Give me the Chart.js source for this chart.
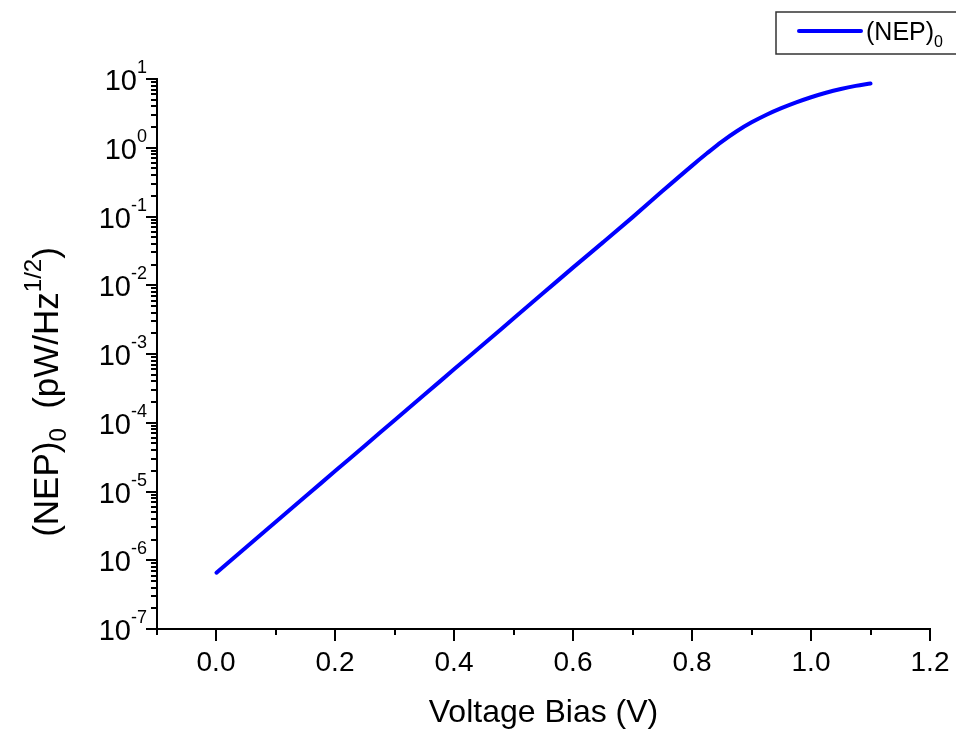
<!DOCTYPE html>
<html>
<head>
<meta charset="utf-8">
<script src="https://cdn.jsdelivr.net/npm/chart.js@4.4.1/dist/chart.umd.min.js"></script>
<style>
  html, body { margin: 0; padding: 0; background: #fff; }
  #wrap { width: 956px; height: 730px; position: relative; }
</style>
</head>
<body>
<div id="wrap"><canvas id="chart" width="956" height="730"></canvas></div>
<script>
// bias voltage (V) and noise-equivalent power (pW/Hz^1/2)
const voltage = [0.00, 0.05, 0.10, 0.15, 0.20, 0.25, 0.30, 0.35, 0.40, 0.45, 0.50, 0.55,
                 0.60, 0.65, 0.70, 0.75, 0.80, 0.825, 0.85, 0.875, 0.90, 0.925, 0.95,
                 0.975, 1.00, 1.025, 1.05, 1.075, 1.10];
const nep0 = [6.6e-7, 1.55e-6, 3.63e-6, 8.5e-6, 2.0e-5, 4.68e-5, 1.10e-4, 2.57e-4, 6.03e-4,
              1.41e-3, 3.31e-3, 7.76e-3, 1.82e-2, 4.2e-2, 9.8e-2, 0.234, 0.55, 0.83,
              1.23, 1.74, 2.34, 3.02, 3.76, 4.57, 5.43, 6.31, 7.16, 7.94, 8.61];

// axis ticks
const xMajorTicks = [0.0, 0.2, 0.4, 0.6, 0.8, 1.0, 1.2];
const xTickLabels = ['0.0', '0.2', '0.4', '0.6', '0.8', '1.0', '1.2'];
const xMinorTicks = [-0.1, 0.1, 0.3, 0.5, 0.7, 0.9, 1.1];
const yExponents = [-7, -6, -5, -4, -3, -2, -1, 0, 1];

const FONT = '"Liberation Sans", Arial, sans-serif';

// draws text made of pieces with their own size and vertical shift
function drawRich(ctx, parts, x, y, align) {
  let total = 0;
  parts.forEach(p => {
    ctx.font = p.size + 'px ' + FONT;
    p.w = ctx.measureText(p.text).width;
    total += p.w;
  });
  let cx = align === 'right' ? x - total : align === 'center' ? x - total / 2 : x;
  parts.forEach(p => {
    ctx.font = p.size + 'px ' + FONT;
    ctx.fillText(p.text, cx, y + (p.dy || 0));
    cx += p.w;
  });
}

const decorPlugin = {
  id: 'decor',
  afterDraw(chart) {
    const ctx = chart.ctx;
    const xs = chart.scales.x;
    const ys = chart.scales.y;
    const area = chart.chartArea;
    ctx.save();
    ctx.strokeStyle = '#000';
    ctx.fillStyle = '#000';
    ctx.lineWidth = 2;
    ctx.textBaseline = 'alphabetic';

    // x ticks
    xMajorTicks.forEach((v, i) => {
      const px = Math.round(xs.getPixelForValue(v));
      ctx.beginPath();
      ctx.moveTo(px, area.bottom);
      ctx.lineTo(px, area.bottom + 12);
      ctx.stroke();
      drawRich(ctx, [{ text: xTickLabels[i], size: 28 }], px, area.bottom + 42, 'center');
    });
    xMinorTicks.forEach(v => {
      const px = Math.round(xs.getPixelForValue(v));
      ctx.beginPath();
      ctx.moveTo(px, area.bottom);
      ctx.lineTo(px, area.bottom + 6);
      ctx.stroke();
    });

    // y ticks, decades and minor 2..9
    yExponents.forEach(e => {
      const py = Math.round(ys.getPixelForValue(Math.pow(10, e)));
      ctx.beginPath();
      ctx.moveTo(area.left, py);
      ctx.lineTo(area.left - 11, py);
      ctx.stroke();
      drawRich(ctx, [
        { text: '10', size: 29 },
        { text: String(e), size: 18, dy: -17 }
      ], area.left - 10, py + 11, 'right');
      if (e < 1) {
        for (let k = 2; k <= 9; k++) {
          const pm = Math.round(ys.getPixelForValue(k * Math.pow(10, e)));
          ctx.beginPath();
          ctx.moveTo(area.left, pm);
          ctx.lineTo(area.left - 6, pm);
          ctx.stroke();
        }
      }
    });

    // x title
    drawRich(ctx, [{ text: 'Voltage Bias (V)', size: 32 }],
      (area.left + area.right) / 2, 722, 'center');

    // y title, rotated
    ctx.save();
    ctx.translate(58, 392);
    ctx.rotate(-Math.PI / 2);
    drawRich(ctx, [
      { text: '(NEP)', size: 35 },
      { text: '0', size: 24, dy: 8 },
      { text: '  (pW/Hz', size: 35 },
      { text: '1/2', size: 24, dy: -17 },
      { text: ')', size: 35 }
    ], 0, 0, 'center');
    ctx.restore();

    // legend box
    ctx.lineWidth = 1.5;
    ctx.strokeStyle = '#333';
    ctx.strokeRect(776, 12, 190, 42);
    ctx.strokeStyle = '#0000ff';
    ctx.lineWidth = 4;
    ctx.lineCap = 'round';
    ctx.beginPath();
    ctx.moveTo(799, 31);
    ctx.lineTo(861, 31);
    ctx.stroke();
    ctx.fillStyle = '#000';
    drawRich(ctx, [
      { text: '(NEP)', size: 25 },
      { text: '0', size: 16, dy: 7 }
    ], 866, 40, 'left');

    ctx.restore();
  }
};

new Chart(document.getElementById('chart'), {
  type: 'line',
  data: {
    labels: voltage,
    datasets: [{
      label: '(NEP)0',
      data: voltage.map((v, i) => ({ x: v, y: nep0[i] })),
      borderColor: '#0000ff',
      borderWidth: 4,
      borderCapStyle: 'round',
      borderJoinStyle: 'round',
      pointRadius: 0,
      fill: false,
      cubicInterpolationMode: 'monotone'
    }]
  },
  options: {
    responsive: false,
    animation: false,
    layout: { padding: { left: 157, right: 26, top: 79, bottom: 101 } },
    plugins: {
      legend: { display: false },
      tooltip: { enabled: false }
    },
    scales: {
      x: {
        type: 'linear',
        min: -0.1,
        max: 1.2,
        grid: { display: false, drawTicks: false },
        border: { display: true, color: '#000', width: 2 },
        ticks: { display: false }
      },
      y: {
        type: 'logarithmic',
        min: 1e-7,
        max: 10,
        grid: { display: false, drawTicks: false },
        border: { display: true, color: '#000', width: 2 },
        ticks: { display: false }
      }
    }
  },
  plugins: [decorPlugin]
});
</script>
</body>
</html>
